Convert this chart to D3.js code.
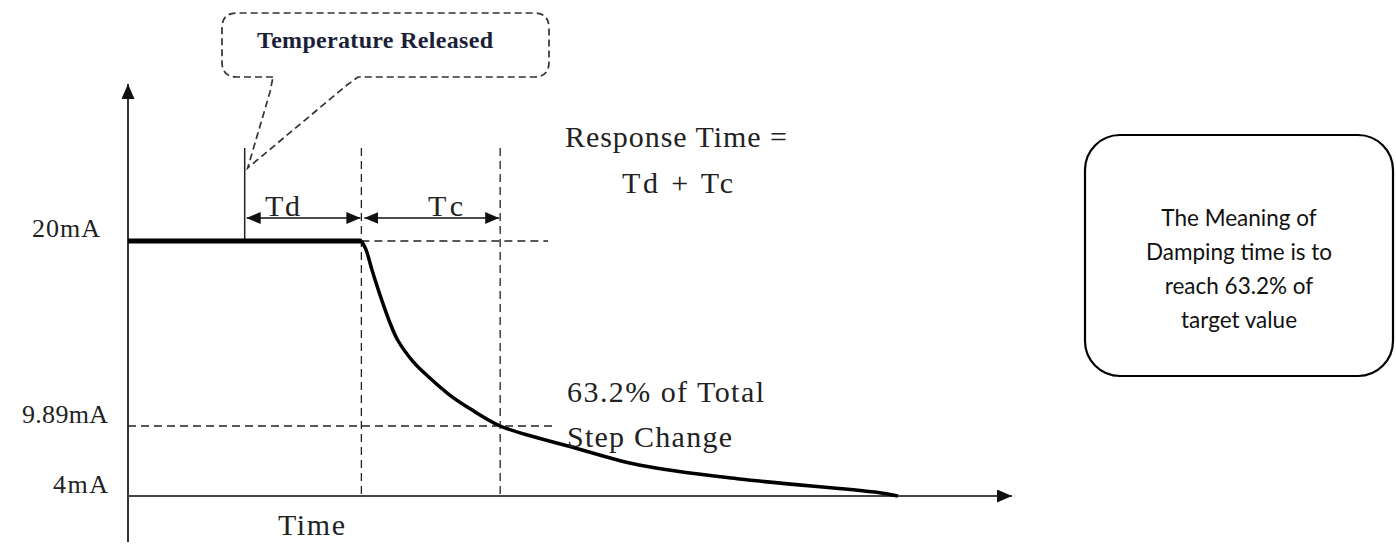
<!DOCTYPE html>
<html lang="en">
<head>
	<meta charset="utf-8">
	<title>Response time and damping time</title>
	<script src="https://d3js.org/d3.v7.min.js"></script>
	<style type="text/css">
		body { margin: 0; background: #fff; }
		svg { display: block; }
	</style>
</head>
<body>
	<script type="text/javascript">
		//Size of the page
		var w = 1396;
		var h = 544;

		//Output current (mA) against time (arbitrary units)
		var timeVals = [0, 2.64, 2.69, 2.76, 2.87, 2.96, 3.05, 3.22, 3.39, 3.64, 3.88, 4.21, 4.60, 5.02, 5.78, 6.92, 8.45, 8.71];
		var mAVals = [20, 20, 19.56, 18.42, 16.78, 15.57, 14.59, 13.44, 12.62, 11.58, 10.80, 9.89, 8.96, 8.12, 6.61, 5.43, 4.33, 4.0];

		//Current levels marked on the y axis
		var tickVals = [20, 9.89, 4];
		var tickLabels = ["20mA", "9.89mA", "4mA"];

		//Temperature released, output starts to move, 63.2% reached
		var eventTimes = [1.32, 2.64, 4.21];
		var spanLabels = ["Td", "Tc"];

		var svg = d3.select("body")
			.append("svg")
			.attr("width", w)
			.attr("height", h);

		//The drawing is schematic, so the current axis is piecewise through the marked levels
		var x = d3.scaleLinear().domain([0, 10]).range([128, 1012]);
		var y = d3.scaleLinear().domain([4, 9.89, 20]).range([496, 426, 241]);

		var data = timeVals.map(function(t, i) { return { t: t, v: mAVals[i] }; });
		var tRel = eventTimes[0], tStep = eventTimes[1], t632 = eventTimes[2];

		//arrow heads
		var defs = svg.append("defs");
		function head(id, len, wid) {
			defs.append("marker")
				.attr("id", id)
				.attr("markerUnits", "userSpaceOnUse")
				.attr("markerWidth", len)
				.attr("markerHeight", wid)
				.attr("refX", len)
				.attr("refY", wid / 2)
				.attr("orient", "auto-start-reverse")
				.append("path")
				.attr("d", "M0,0L" + len + "," + (wid / 2) + "L0," + wid + "Z")
				.attr("fill", "#111");
		}
		head("axisHead", 15, 13);
		head("dimHead", 14, 12);

		var ink = "#222";
		var serif = "'Liberation Serif', 'DejaVu Serif', serif";

		//axes
		svg.append("line")
			.attr("x1", x(0)).attr("y1", 542)
			.attr("x2", x(0)).attr("y2", 84)
			.attr("stroke", "#333").attr("stroke-width", 2)
			.attr("marker-end", "url(#axisHead)");
		svg.append("line")
			.attr("x1", x(0)).attr("y1", y(4))
			.attr("x2", x(10)).attr("y2", y(4))
			.attr("stroke", "#444").attr("stroke-width", 2.2)
			.attr("marker-end", "url(#axisHead)");

		//dashed guides
		var dash = "8,5";
		svg.append("line")
			.attr("x1", x(tStep)).attr("x2", 548)
			.attr("y1", y(20)).attr("y2", y(20))
			.attr("stroke", ink).attr("stroke-width", 1.3).attr("stroke-dasharray", dash);
		svg.append("line")
			.attr("x1", x(0)).attr("x2", 552)
			.attr("y1", y(9.89)).attr("y2", y(9.89))
			.attr("stroke", ink).attr("stroke-width", 1.3).attr("stroke-dasharray", dash);
		svg.selectAll("line.vguide")
			.data([tStep, t632])
			.enter()
			.append("line")
			.attr("class", "vguide")
			.attr("x1", function(d) { return x(d); })
			.attr("x2", function(d) { return x(d); })
			.attr("y1", 148)
			.attr("y2", y(4))
			.attr("stroke", ink).attr("stroke-width", 1.3).attr("stroke-dasharray", dash);

		//moment the temperature is released
		svg.append("line")
			.attr("x1", x(tRel)).attr("x2", x(tRel))
			.attr("y1", 148).attr("y2", y(20))
			.attr("stroke", ink).attr("stroke-width", 1.5);

		//Td and Tc spans
		var spans = [[tRel, tStep], [tStep, t632]];
		svg.selectAll("line.span")
			.data(spans)
			.enter()
			.append("line")
			.attr("class", "span")
			.attr("x1", function(d, i) { return x(d[0]) + (i ? 3 : 2); })
			.attr("x2", function(d) { return x(d[1]) - 1; })
			.attr("y1", 218).attr("y2", 218)
			.attr("stroke", "#111").attr("stroke-width", 1.6)
			.attr("marker-start", "url(#dimHead)")
			.attr("marker-end", "url(#dimHead)");
		svg.selectAll("text.span")
			.data(spans)
			.enter()
			.append("text")
			.attr("class", "span")
			.text(function(d, i) { return spanLabels[i]; })
			.attr("x", function(d, i) { return i ? 428 : 265; })
			.attr("y", 216)
			.attr("textLength", 35)
			.attr("font-family", serif).attr("font-size", "30px").attr("fill", ink);

		//flat output before the step, then the decay
		svg.append("path")
			.datum(data.slice(0, 2))
			.attr("d", d3.line().x(function(d) { return x(d.t); }).y(function(d) { return y(d.v); }))
			.attr("fill", "none").attr("stroke", "#000").attr("stroke-width", 5);
		svg.append("path")
			.datum(data.slice(1))
			.attr("d", d3.line()
				.x(function(d) { return x(d.t); })
				.y(function(d) { return y(d.v); })
				.curve(d3.curveCatmullRom.alpha(0.5)))
			.attr("fill", "none").attr("stroke", "#000").attr("stroke-width", 3.5)
			.attr("stroke-linejoin", "round");

		//current level labels
		svg.selectAll("text.tick")
			.data(tickVals)
			.enter()
			.append("text")
			.attr("class", "tick")
			.text(function(d, i) { return tickLabels[i]; })
			.attr("text-anchor", "end")
			.attr("x", function(d, i) { return i ? 108 : 100; })
			.attr("y", function(d) { return y(d) - (d === 20 ? 4 : 3); })
			.attr("textLength", function(d, i) { return [68, 86, 55][i]; })
			.attr("font-family", serif).attr("font-size", "26px").attr("fill", ink);

		//free text
		var notes = [
			{ s: "Response Time =", x: 565, y: 147, len: 222 },
			{ s: "Td + Tc", x: 622, y: 193, len: 111 },
			{ s: "63.2% of Total", x: 567, y: 402, len: 197 },
			{ s: "Step Change", x: 567, y: 447, len: 165 },
			{ s: "Time", x: 278, y: 535, len: 67 }
		];
		svg.selectAll("text.note")
			.data(notes)
			.enter()
			.append("text")
			.attr("class", "note")
			.text(function(d) { return d.s; })
			.attr("x", function(d) { return d.x; })
			.attr("y", function(d) { return d.y; })
			.attr("textLength", function(d) { return d.len; })
			.attr("font-family", serif).attr("font-size", "30px").attr("fill", ink);

		//dashed speech bubble pointing at the release line
		var tipX = x(tRel) + 3, tipY = 168;
		var bx0 = 222, bx1 = 549, by0 = 13, by1 = 77, r = 15;
		var bubble = "M273," + by1 +
			"L" + (bx0 + r) + "," + by1 + "Q" + bx0 + "," + by1 + " " + bx0 + "," + (by1 - r) +
			"L" + bx0 + "," + (by0 + r) + "Q" + bx0 + "," + by0 + " " + (bx0 + r) + "," + by0 +
			"L" + (bx1 - r) + "," + by0 + "Q" + bx1 + "," + by0 + " " + bx1 + "," + (by0 + r) +
			"L" + bx1 + "," + (by1 - r) + "Q" + bx1 + "," + by1 + " " + (bx1 - r) + "," + by1 +
			"L358," + by1 + "L347,85L" + tipX + "," + tipY + "L270,92Z";
		svg.append("path")
			.attr("d", bubble)
			.attr("fill", "none")
			.attr("stroke", "#333")
			.attr("stroke-width", 1.7)
			.attr("stroke-dasharray", "7,4");
		svg.append("text")
			.text("Temperature Released")
			.attr("x", 257).attr("y", 48)
			.attr("textLength", 236)
			.attr("font-family", serif)
			.attr("font-weight", "bold")
			.attr("font-size", "24px")
			.attr("fill", "#1b1f3a");

		//note box on the right
		svg.append("rect")
			.attr("x", 1085).attr("y", 135)
			.attr("width", 308).attr("height", 241)
			.attr("rx", 35).attr("ry", 35)
			.attr("fill", "#fff").attr("stroke", "#000").attr("stroke-width", 2.2);
		var boxLines = ["The Meaning of", "Damping time is to", "reach 63.2% of", "target value"];
		svg.selectAll("text.box")
			.data(boxLines)
			.enter()
			.append("text")
			.attr("class", "box")
			.text(function(d) { return d; })
			.attr("text-anchor", "middle")
			.attr("x", 1239)
			.attr("y", function(d, i) { return 226 + i * 34; })
			.attr("font-family", "Lato, 'Open Sans', sans-serif")
			.attr("font-size", "22.5px")
			.attr("fill", "#111");
	</script>
</body>
</html>
